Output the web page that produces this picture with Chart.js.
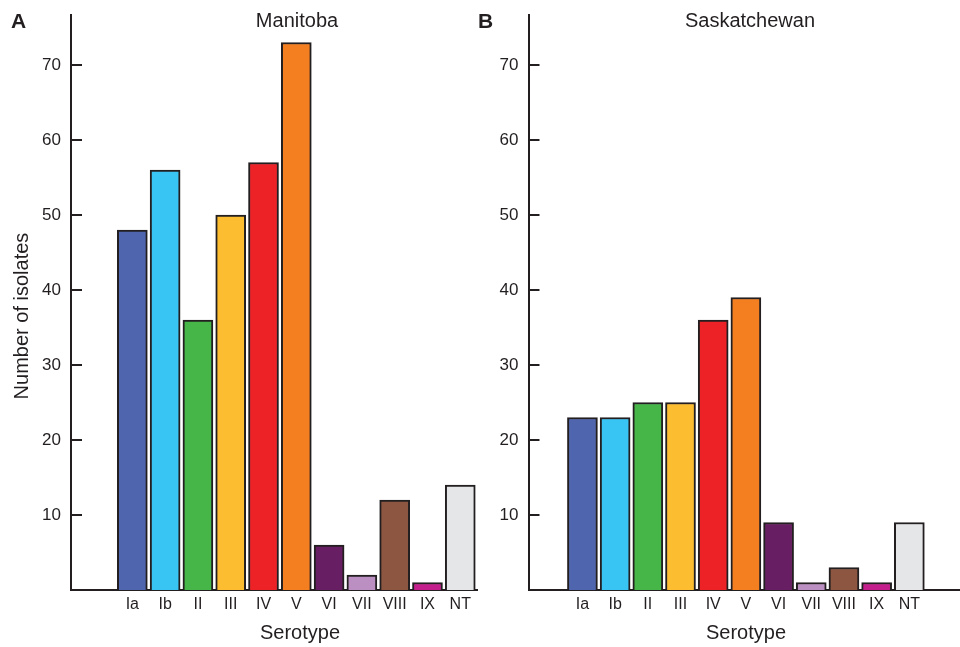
<!DOCTYPE html>
<html>
<head>
<meta charset="utf-8">
<script src="https://cdn.jsdelivr.net/npm/chart.js@4.4.1/dist/chart.umd.min.js"></script>
<style>
  body { margin: 0; background: #fff; width: 960px; height: 647px; position: relative; overflow: hidden;
         font-family: "Liberation Sans", Arial, sans-serif; color: #231f20; }
  .panel { position: absolute; top: 0; width: 480px; height: 647px; }
  .txt { position: absolute; font-size: 20px; line-height: 20px; white-space: nowrap; }
  .mid { transform: translateX(-50%); }
  .letter { font-weight: bold; font-size: 21px; line-height: 21px; }
</style>
</head>
<body>
<div class="panel" style="left:0"><canvas id="chartA" width="480" height="647"></canvas></div>
<div class="panel" style="left:480px"><canvas id="chartB" width="480" height="647"></canvas></div>

<div class="txt letter" style="left:11px;top:10px">A</div>
<div class="txt letter" style="left:478px;top:10px">B</div>
<div class="txt mid" style="left:297px;top:10px">Manitoba</div>
<div class="txt mid" style="left:750px;top:10px">Saskatchewan</div>
<div class="txt mid" style="left:300px;top:622px">Serotype</div>
<div class="txt mid" style="left:746px;top:622px">Serotype</div>
<div class="txt" style="left:21px;top:316px;transform:translate(-50%,-50%) rotate(-90deg)">Number of isolates</div>

<script>
const serotypes = ["Ia", "Ib", "II", "III", "IV", "V", "VI", "VII", "VIII", "IX", "NT"];
const manitoba = [48, 56, 36, 50, 57, 73, 6, 2, 12, 1, 14];
const saskatchewan = [23, 23, 25, 25, 36, 39, 9, 1, 3, 1, 9];
const yTicks = [10, 20, 30, 40, 50, 60, 70];
const barColors = ["#4f65ad", "#39c5f3", "#46b649", "#fcbd30", "#ec2227", "#f47f20",
                   "#681e62", "#bb8fc1", "#8d5641", "#c41e8c", "#e5e6e7"];

const INK = "#231f20";
const FONT = "'Liberation Sans', Arial, sans-serif";

// tick marks on the inside of the y axis
const innerTicks = {
  id: 'innerTicks',
  afterDraw(chart) {
    const y = chart.scales.y, ctx = chart.ctx, left = chart.chartArea.left;
    ctx.save();
    ctx.strokeStyle = INK;
    ctx.lineWidth = 2;
    y.ticks.forEach(t => {
      const py = Math.round(y.getPixelForValue(t.value));
      ctx.beginPath();
      ctx.moveTo(left, py);
      ctx.lineTo(left + 11, py);
      ctx.stroke();
    });
    ctx.restore();
  }
};

function noPad(s) {
  s.paddingTop = 0; s.paddingBottom = 0; s.paddingLeft = 0; s.paddingRight = 0;
}

function makeChart(id, values, xMin, xMax, yWidth, padRight) {
  return new Chart(document.getElementById(id), {
    type: 'bar',
    data: {
      datasets: [{
        data: values.map((v, i) => ({ x: i, y: v })),
        backgroundColor: barColors,
        borderColor: INK,
        borderWidth: 2,
        barThickness: 30
      }]
    },
    options: {
      responsive: false,
      animation: false,
      layout: { padding: { top: 15, right: padRight, bottom: 0, left: 0 } },
      plugins: { legend: { display: false }, tooltip: { enabled: false } },
      scales: {
        x: {
          type: 'linear',
          offset: false,
          min: xMin,
          max: xMax,
          afterBuildTicks: s => { s.ticks = serotypes.map((c, i) => ({ value: i })); },
          afterFit: s => { s.height = 57; noPad(s); },
          grid: { display: false, drawTicks: false },
          border: { display: true, color: INK, width: 2 },
          ticks: {
            autoSkip: false, maxRotation: 0, padding: 5, color: INK,
            font: { family: FONT, size: 16 },
            callback: v => serotypes[v]
          }
        },
        y: {
          min: 0,
          max: 76.67,
          afterBuildTicks: s => { s.ticks = yTicks.map(v => ({ value: v })); },
          afterFit: s => { s.width = yWidth; noPad(s); },
          grid: { display: false, drawTicks: false },
          border: { display: true, color: INK, width: 2 },
          ticks: { padding: 10, color: INK, font: { family: FONT, size: 17 } }
        }
      }
    },
    plugins: [innerTicks]
  });
}

makeChart('chartA', manitoba, -1.87, 10.51, 71, 3);
makeChart('chartB', saskatchewan, -1.65, 11.55, 48.5, 0);
</script>
</body>
</html>
